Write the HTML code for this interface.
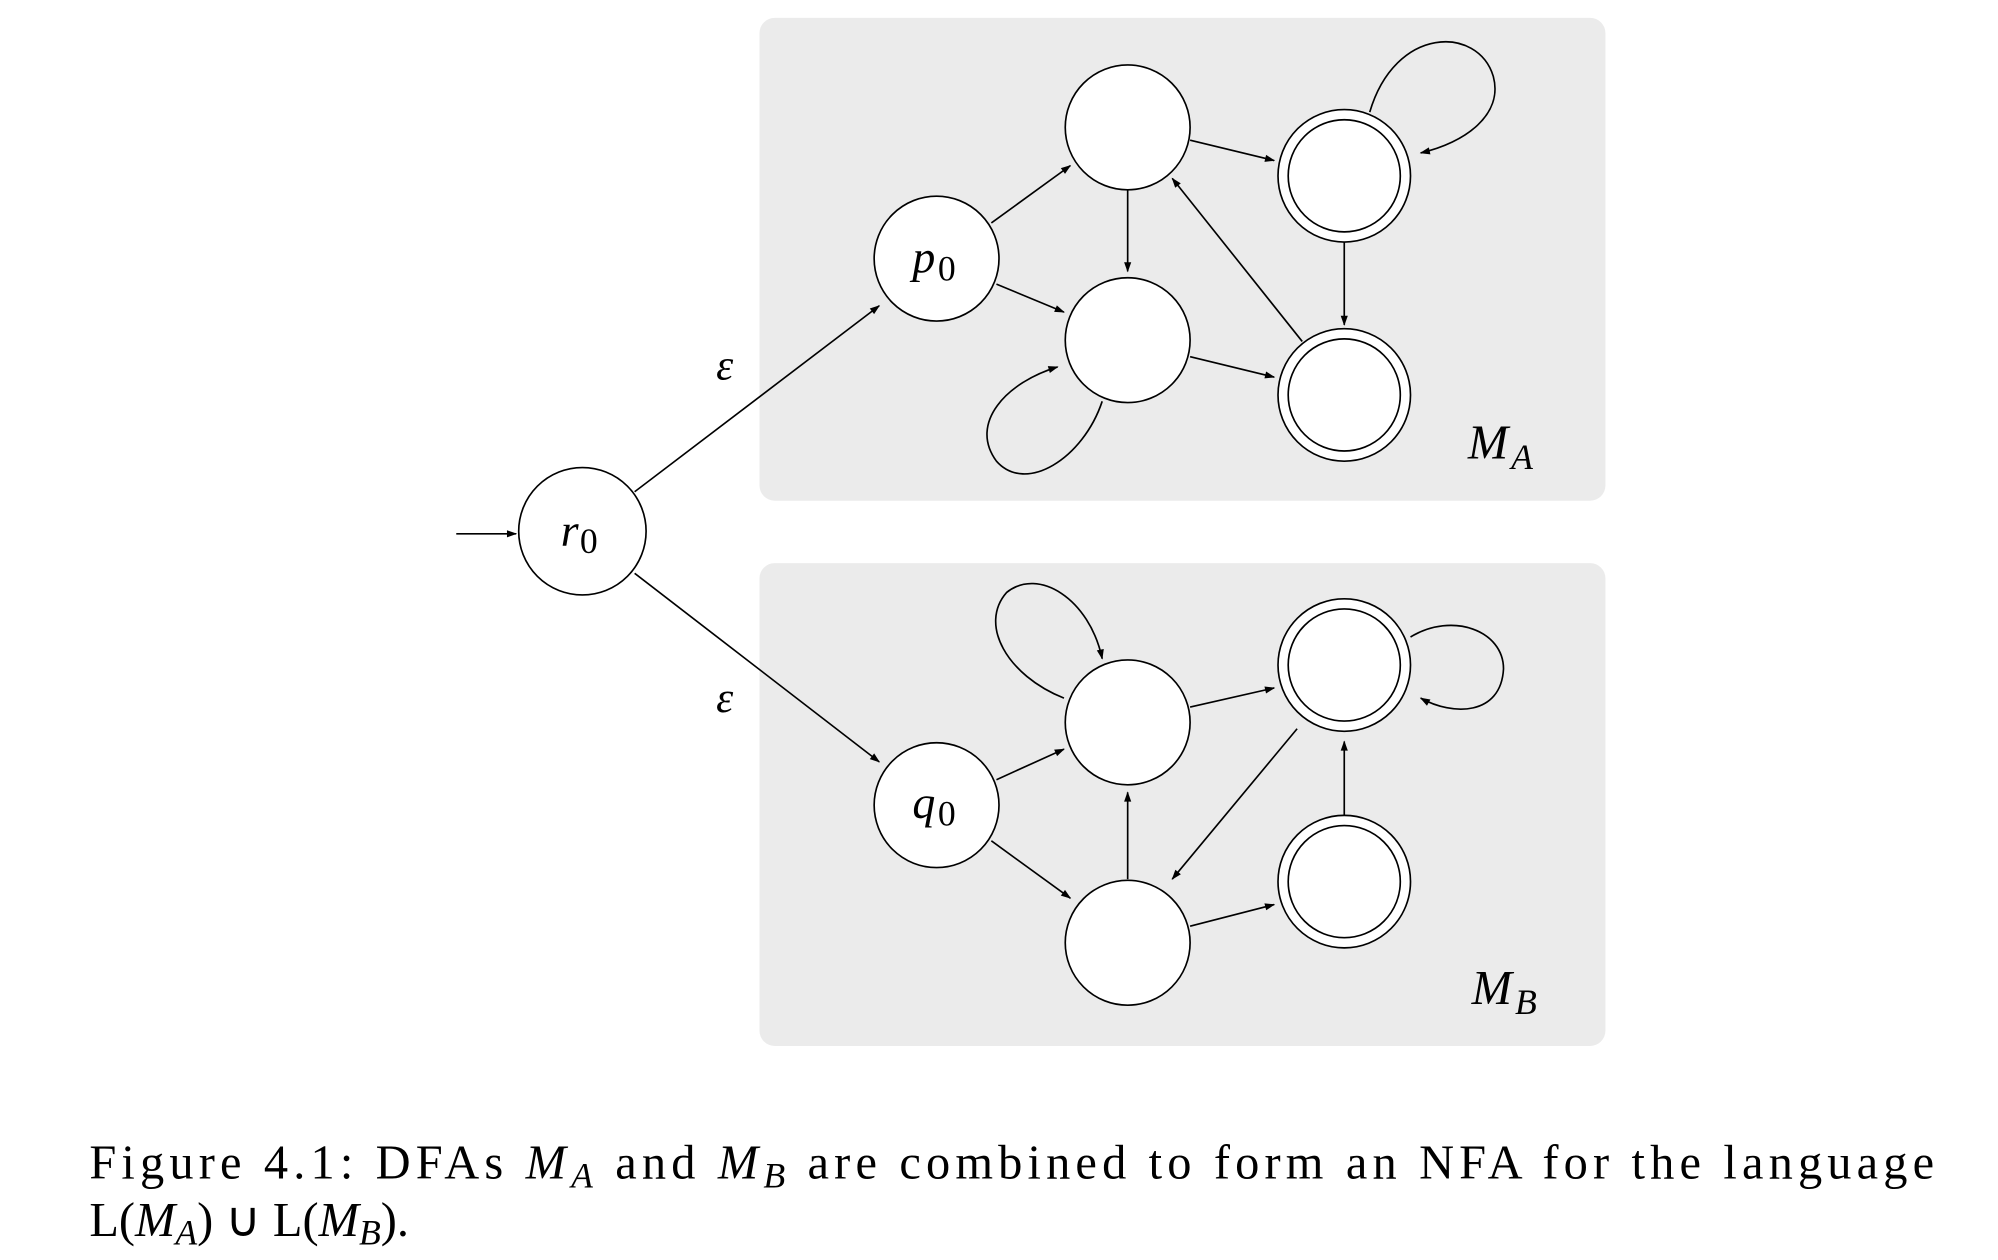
<!DOCTYPE html>
<html><head><meta charset="utf-8"><style>
html,body{margin:0;padding:0;background:#fff;}
svg{display:block;}
</style></head><body>
<svg width="1998" height="1260" viewBox="0 0 1568 989" xmlns="http://www.w3.org/2000/svg">
<defs>
<marker id="ar" viewBox="0 0 10 10" refX="9" refY="5" markerWidth="7" markerHeight="7" orient="auto" markerUnits="userSpaceOnUse">
<path d="M0,1 L10,5 L0,9 z" fill="#000"/>
</marker>
<marker id="ar2" viewBox="0 0 10 10" refX="9" refY="5" markerWidth="10" markerHeight="8" orient="auto" markerUnits="userSpaceOnUse">
<path d="M0,1.5 L10,5 L0,8.5 z" fill="#000"/>
</marker>
</defs>
<rect x="596" y="14" width="664" height="379" rx="12" fill="#ebebeb"/>
<rect x="596" y="442" width="664" height="379" rx="12" fill="#ebebeb"/>
<g fill="none" stroke="#000" stroke-width="1.3" marker-end="url(#ar2)">
<line x1="358" y1="419" x2="405" y2="419"/>
<line x1="498" y1="386" x2="690" y2="240"/>
<line x1="778" y1="175" x2="840" y2="130"/>
<line x1="782" y1="223" x2="835" y2="245"/>
<line x1="885" y1="149" x2="885" y2="213"/>
<line x1="934" y1="110" x2="1000" y2="126"/>
<line x1="934" y1="280" x2="1000" y2="296"/>
<line x1="1022" y1="268" x2="920" y2="140"/>
<line x1="1055" y1="190" x2="1055" y2="255"/>
<path d="M1075,88 C1095,20 1160,20 1172,60 C1180,90 1150,112 1115,120"/>
<path d="M865,315 C850,360 805,388 782,362 C760,332 790,300 830,288"/>
<line x1="498" y1="450" x2="690" y2="598"/>
<line x1="782" y1="612" x2="835" y2="588"/>
<line x1="778" y1="660" x2="840" y2="705"/>
<line x1="885" y1="690" x2="885" y2="622"/>
<line x1="934" y1="555" x2="1000" y2="540"/>
<line x1="934" y1="727" x2="1000" y2="710"/>
<line x1="1018" y1="572" x2="920" y2="690"/>
<line x1="1055" y1="640" x2="1055" y2="582"/>
<path d="M835,548 C790,530 768,490 790,465 C815,445 855,470 865,517"/>
<path d="M1107,500 C1140,480 1180,495 1180,525 C1178,562 1140,562 1115,548"/>
</g>
<g fill="#fff" stroke="#000" stroke-width="1.3">
<circle cx="457" cy="417" r="50"/>
<circle cx="735" cy="203" r="49"/>
<circle cx="735" cy="632" r="49"/>
<circle cx="885" cy="100" r="49"/>
<circle cx="885" cy="267" r="49"/>
<circle cx="885" cy="567" r="49"/>
<circle cx="885" cy="740" r="49"/>
<circle cx="1055" cy="138" r="52"/><circle cx="1055" cy="138" r="44"/>
<circle cx="1055" cy="310" r="52"/><circle cx="1055" cy="310" r="44"/>
<circle cx="1055" cy="522" r="52"/><circle cx="1055" cy="522" r="44"/>
<circle cx="1055" cy="692" r="52"/><circle cx="1055" cy="692" r="44"/>
</g>
<g font-family="Liberation Serif, serif" fill="#000">
<text x="440" y="428" font-size="36" font-style="italic">r</text><text x="455" y="434" font-size="28">0</text>
<text x="716" y="214" font-size="36" font-style="italic">p</text><text x="736" y="220" font-size="28">0</text>
<text x="716" y="642" font-size="36" font-style="italic">q</text><text x="736" y="648" font-size="28">0</text>
<text x="562" y="298" font-size="34" font-style="italic">ε</text>
<text x="562" y="559" font-size="34" font-style="italic">ε</text>
<text x="1152" y="360" font-size="38" font-style="italic">M</text><text x="1186" y="368" font-size="28" font-style="italic">A</text>
<text x="1155" y="788" font-size="38" font-style="italic">M</text><text x="1189" y="796" font-size="28" font-style="italic">B</text>
<text x="70" y="925" font-size="38" textLength="1448" lengthAdjust="spacing">Figure 4.1: DFAs <tspan font-style="italic">M</tspan><tspan font-style="italic" font-size="28" dy="7">A</tspan><tspan dy="-7"> and </tspan><tspan font-style="italic">M</tspan><tspan font-style="italic" font-size="28" dy="7">B</tspan><tspan dy="-7"> are combined to form an NFA for the language</tspan></text>
<text x="70" y="970" font-size="38">L(<tspan font-style="italic">M</tspan><tspan font-style="italic" font-size="28" dy="7">A</tspan><tspan dy="-7">) ∪ L(</tspan><tspan font-style="italic">M</tspan><tspan font-style="italic" font-size="28" dy="7">B</tspan><tspan dy="-7">).</tspan></text>
</g>
</svg>
</body></html>
